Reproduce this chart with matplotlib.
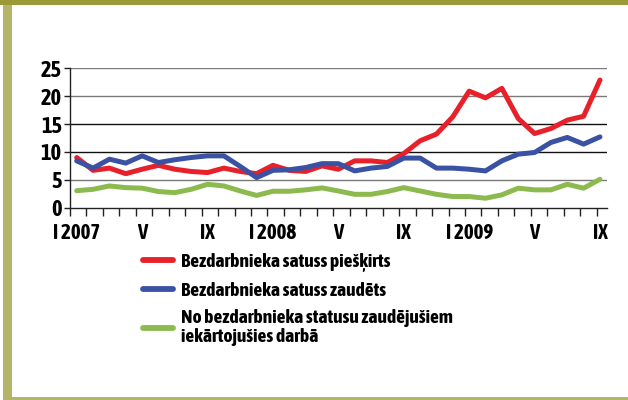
import matplotlib
matplotlib.use("Agg")
import matplotlib.pyplot as plt
from matplotlib.patches import Rectangle
import numpy as np

plt.rcParams['font.family'] = ['Asap Condensed', 'Barlow Semi Condensed', 'DejaVu Sans']
plt.rcParams['font.weight'] = 'bold'

months = list(range(33))
tick_pos = [0, 4, 8, 12, 16, 20, 24, 28, 32]
tick_labels = ["I 2007", "V", "IX", "I 2008", "V", "IX", "I 2009", "V", "IX"]

granted = [9.0, 6.7, 7.1, 6.1, 6.9, 7.6, 6.9, 6.5, 6.3, 7.1, 6.5, 6.1, 7.6, 6.7, 6.5, 7.5,
           6.9, 8.4, 8.4, 8.1, 9.7, 12.0, 13.2, 16.3, 20.9, 19.7, 21.4, 16.0, 13.3, 14.2,
           15.7, 16.4, 22.9]
lost = [8.4, 7.1, 8.7, 8.0, 9.3, 8.1, 8.6, 9.0, 9.3, 9.3, 7.4, 5.4, 6.7, 6.8, 7.2, 7.9,
        7.9, 6.6, 7.1, 7.4, 8.9, 8.9, 7.1, 7.1, 6.9, 6.6, 8.4, 9.6, 9.9, 11.7, 12.6,
        11.4, 12.7]
employed = [3.05, 3.3, 3.9, 3.6, 3.5, 2.9, 2.7, 3.3, 4.2, 3.9, 3.0, 2.2, 2.95, 2.95, 3.2,
            3.55, 3.0, 2.4, 2.4, 2.9, 3.6, 3.0, 2.4, 2.0, 2.0, 1.7, 2.3, 3.5, 3.2, 3.2,
            4.2, 3.5, 5.1]

labels = ["Bezdarbnieka satuss piešķirts",
          "Bezdarbnieka satuss zaudēts",
          "No bezdarbnieka statusu zaudējušiem\niekārtojušies darbā"]
colors = ["#E8202A", "#3A52A3", "#8DBA4F"]

W, H = 628, 400
fig = plt.figure(figsize=(W / 100, H / 100), dpi=100)

# frame decorations
fig.patches.append(Rectangle((0, 1 - 5 / H), 1, 5 / H, transform=fig.transFigure,
                             facecolor="#9A9A37", edgecolor="none", zorder=0))
fig.patches.append(Rectangle((3 / W, 0), 9 / W, 1 - 5 / H, transform=fig.transFigure,
                             facecolor="#B5B56A", edgecolor="none", zorder=0))
fig.patches.append(Rectangle((3 / W, 0), 1 - 3 / W, 3 / H, transform=fig.transFigure,
                             facecolor="#B5B56A", edgecolor="none", zorder=0))

ax = fig.add_axes([70 / W, 1 - 207.7 / H, 537 / W, 139.4 / H])
ax.set_xlim(-0.41, 32.43)
ax.set_ylim(0, 25)

for y in [5, 10, 15, 20, 25]:
    ax.axhline(y, color="#7a7a7a" if y in (5, 20, 25) else "#111111", lw=1.0, zorder=1)

handles = []
for data, c in zip([granted, lost, employed], colors):
    h, = ax.plot(months, data, color=c, lw=3.6, solid_capstyle='round',
                 solid_joinstyle='round', zorder=3)
    handles.append(h)

for s in ['top', 'right']:
    ax.spines[s].set_visible(False)
for s in ['left', 'bottom']:
    ax.spines[s].set_color("#222222")
    ax.spines[s].set_linewidth(1.0)

ax.set_yticks([0, 5, 10, 15, 20, 25])
ax.set_xticks(tick_pos)
ax.set_xticklabels(tick_labels)
ax.set_xticks(np.arange(-0.41, 32.5, 1.0064), minor=True)
ax.tick_params(axis='x', which='major', length=0, pad=11, labelsize=15)
ax.tick_params(axis='x', which='minor', length=5.5, width=1.0, color="#222222", direction='out')
ax.tick_params(axis='y', length=4, width=1.0, color="#222222", pad=2, labelsize=16)
for t in ax.get_xticklabels() + ax.get_yticklabels():
    t.set_fontweight('bold')

leg = fig.legend(handles, labels, loc='upper left', bbox_to_anchor=(143 / W, 1 - 253 / H),
                 frameon=False, handlelength=1.55, handletextpad=0.42, borderpad=0,
                 borderaxespad=0, labelspacing=0.5, prop={'weight': 'bold', 'size': 14})
for t in leg.get_texts():
    t.set_linespacing(1.05)
for l in leg.get_lines():
    l.set_linewidth(4.2)

fig.savefig("out.png", dpi=100, facecolor="white")
